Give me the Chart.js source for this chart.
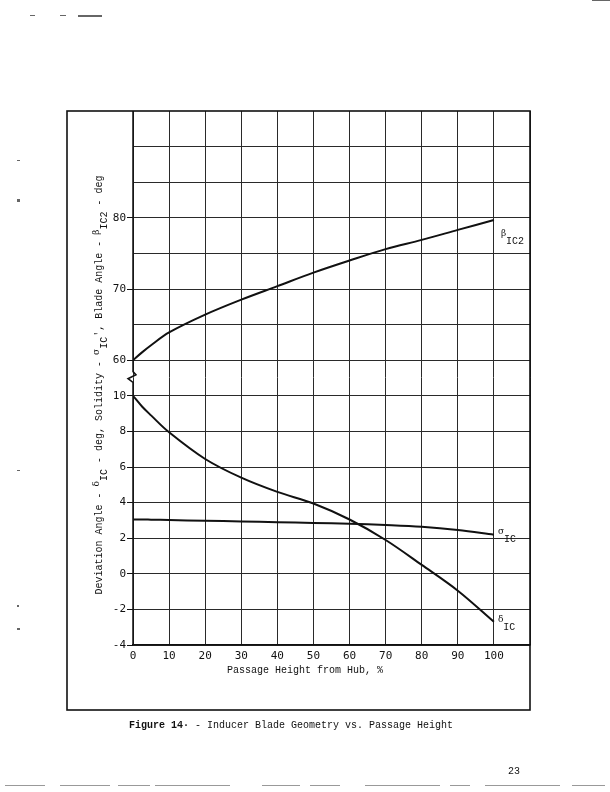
<!DOCTYPE html>
<html>
<head>
<meta charset="utf-8">
<script src="https://cdn.jsdelivr.net/npm/chart.js@4"></script>
<style>
  html, body { margin: 0; padding: 0; background: #ffffff; }
  #wrap { position: relative; width: 610px; height: 792px; }
</style>
</head>
<body>
<div id="wrap"><canvas id="c" width="610" height="792"></canvas></div>
<script>
// ---- data ----
const heightPct = [0, 2.5, 5, 10, 20, 30, 40, 50, 60, 70, 80, 90, 100];
const betaIC2   = [60, 61.1, 62.1, 63.9, 66.4, 68.5, 70.4, 72.3, 74.0, 75.6, 76.9, 78.3, 79.7];
const deltaIC   = [10, 9.4, 8.9, 7.95, 6.45, 5.4, 4.6, 3.95, 3.05, 1.9, 0.5, -0.95, -2.7];
const sigmaIC   = [3.05, 3.05, 3.04, 3.02, 2.98, 2.94, 2.9, 2.86, 2.81, 2.74, 2.64, 2.46, 2.2];
const xTickLabels = [0, 10, 20, 30, 40, 50, 60, 70, 80, 90, 100];
const lowerTickLabels = [-4, -2, 0, 2, 4, 6, 8, 10];
const upperTickLabels = [60, 70, 80];

const INK = '#111111';
const GRID = '#2a2a2a';
const tickFont = { family: '"DejaVu Sans Mono", monospace', size: 11 };
const typeFont = '"Liberation Mono", "Courier New", monospace';

const pts = (ys) => heightPct.map((x, i) => ({ x: x, y: ys[i] }));

function drawRich(ctx, segs, x, y, align) {
  const fonts = {
    n: '10px ' + typeFont,
    b: 'bold 10px ' + typeFont,
    g: '9px "DejaVu Serif", serif',
    s: '10px ' + typeFont
  };
  const offs = { n: 0, b: 0, g: -3, s: 5 };
  let total = 0;
  for (const [t, k] of segs) { ctx.font = fonts[k]; total += ctx.measureText(t).width; }
  let cx = align === 'center' ? x - total / 2 : x;
  for (const [t, k] of segs) {
    ctx.font = fonts[k];
    ctx.fillText(t, cx, y + offs[k]);
    cx += ctx.measureText(t).width;
  }
}

const decor = {
  id: 'decor',
  afterDraw(chart) {
    const ctx = chart.ctx;
    const a = chart.chartArea;
    const xs = chart.scales.x, yl = chart.scales.yLow, yt = chart.scales.yTop;
    ctx.save();
    ctx.fillStyle = INK;
    ctx.strokeStyle = INK;

    // outer frame (its top and right sides are the plot edges)
    ctx.lineWidth = 1.6;
    ctx.strokeRect(67, a.top, a.right - 67, 710 - a.top);

    // left axis line with break symbol between 60 and 10
    const p60 = yt.getPixelForValue(60), p10 = yl.getPixelForValue(10);
    const g = p10 - p60;
    const L = a.left;
    ctx.lineWidth = 1.5;
    ctx.beginPath();
    ctx.moveTo(L, a.top);
    ctx.lineTo(L, p60 + g * 0.32);
    ctx.lineTo(L + 3, p60 + g * 0.41);
    ctx.lineTo(L - 5, p60 + g * 0.52);
    ctx.lineTo(L, p60 + g * 0.62);
    ctx.lineTo(L, a.bottom);
    ctx.stroke();

    // y axis title (rotated)
    ctx.save();
    ctx.translate(102, 385);
    ctx.rotate(-Math.PI / 2);
    ctx.textBaseline = 'alphabetic';
    drawRich(ctx, [
      ['Deviation Angle - ', 'n'], ['\u03b4', 'g'], ['IC', 's'],
      [' - deg, Solidity - ', 'n'], ['\u03c3', 'g'], ['IC', 's'],
      ["', Blade Angle - ", 'n'], ['\u03b2', 'g'], ['IC2', 's'], [' - deg', 'n']
    ], 0, 0, 'center');
    ctx.restore();

    // x axis title
    ctx.textBaseline = 'alphabetic';
    drawRich(ctx, [['Passage Height from Hub, %', 'n']], 305, 673, 'center');

    // series labels next to line ends
    const last = heightPct.length - 1;
    const xe = xs.getPixelForValue(heightPct[last]);
    const yb = yt.getPixelForValue(betaIC2[last]);
    const ys = yl.getPixelForValue(sigmaIC[last]);
    const yd = yl.getPixelForValue(deltaIC[last]);
    drawRich(ctx, [['\u03b2', 'g'], ['IC2', 's']], xe + 7, yb + 19, 'left');
    drawRich(ctx, [['\u03c3', 'g'], ['IC', 's']], xe + 4, ys + 2, 'left');
    drawRich(ctx, [['\u03b4', 'g'], ['IC', 's']], xe + 4, yd + 3, 'left');

    // caption and page number
    drawRich(ctx, [['Figure 14\u00b7', 'b'], [' - Inducer Blade Geometry vs. Passage Height', 'n']], 129, 728, 'left');
    drawRich(ctx, [['23', 'n']], 508, 774, 'left');

    // faint scan specks
    ctx.fillStyle = '#666';
    ctx.fillRect(30, 15, 5, 1);
    ctx.fillRect(60, 15, 6, 1);
    ctx.fillRect(78, 15, 24, 2);
    ctx.fillRect(592, 0, 18, 1);
    ctx.fillRect(17, 160, 3, 1);
    ctx.fillRect(17, 199, 3, 3);
    ctx.fillRect(17, 470, 3, 1);
    ctx.fillRect(17, 605, 2, 2);
    ctx.fillRect(17, 628, 3, 2);
    ctx.fillStyle = '#999';
    const dash = [[5, 45], [60, 110], [118, 150], [155, 230], [262, 300], [310, 340], [365, 440], [450, 470], [485, 560], [572, 605]];
    for (const [s, e] of dash) ctx.fillRect(s, 785, e - s, 1);
    ctx.restore();
  }
};

const lineDs = (label, data, axis) => ({
  label, data: pts(data), yAxisID: axis,
  borderColor: INK, borderWidth: 2, pointRadius: 0,
  tension: 0.35, fill: false
});

new Chart(document.getElementById('c'), {
  type: 'line',
  data: {
    datasets: [
      lineDs('\u03b2IC2', betaIC2, 'yTop'),
      lineDs('\u03c3IC', sigmaIC, 'yLow'),
      lineDs('\u03b4IC', deltaIC, 'yLow')
    ]
  },
  options: {
    responsive: false,
    animation: false,
    layout: { padding: { left: 67, right: 80, top: 111, bottom: 82 } },
    plugins: { legend: { display: false }, tooltip: { enabled: false }, title: { display: false } },
    scales: {
      x: {
        type: 'linear', min: 0, max: 110,
        afterBuildTicks: (s) => { s.ticks = xTickLabels.concat([110]).map(v => ({ value: v })); },
        ticks: {
          autoSkip: false, maxRotation: 0, padding: 5, color: INK, font: tickFont,
          callback: (v) => xTickLabels.includes(v) ? String(v) : ''
        },
        grid: { color: GRID, lineWidth: 1, drawTicks: false },
        border: { display: true, color: INK, width: 1.5 },
        afterFit: (s) => { s.height = 65; }
      },
      yLow: {
        type: 'linear', position: 'left', stack: 'v', stackWeight: 7, weight: 1,
        min: -4, max: 10,
        afterBuildTicks: (s) => { s.ticks = lowerTickLabels.map(v => ({ value: v })); },
        ticks: { autoSkip: false, padding: 1, color: INK, font: tickFont },
        grid: { color: GRID, lineWidth: 1, tickLength: 6, tickColor: INK },
        border: { display: false },
        afterFit: (s) => { s.width = 66; }
      },
      yTop: {
        type: 'linear', position: 'left', stack: 'v', stackWeight: 8, weight: 2,
        min: 55, max: 95,
        afterBuildTicks: (s) => { s.ticks = [60, 65, 70, 75, 80, 85, 90].map(v => ({ value: v })); },
        ticks: {
          autoSkip: false, padding: 1, color: INK, font: tickFont,
          callback: (v) => upperTickLabels.includes(v) ? String(v) : ''
        },
        grid: {
          color: GRID, lineWidth: 1, tickLength: 6,
          tickColor: (c) => (c.tick && upperTickLabels.includes(c.tick.value)) ? INK : 'rgba(0,0,0,0)'
        },
        border: { display: false },
        afterFit: (s) => { s.width = 66; }
      }
    }
  },
  plugins: [decor]
});
</script>
</body>
</html>
